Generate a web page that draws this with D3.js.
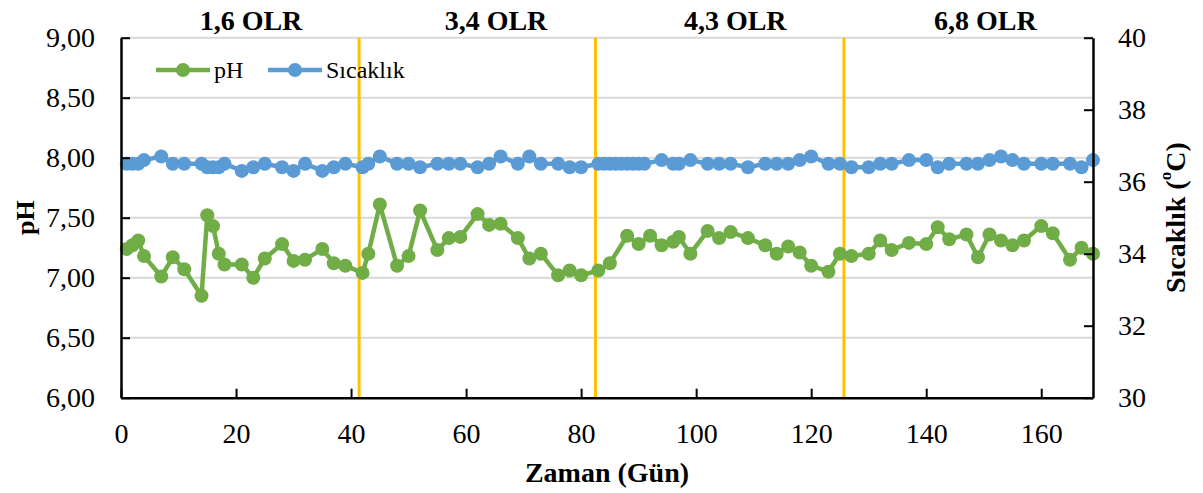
<!DOCTYPE html>
<html>
<head>
<meta charset="utf-8">
<script src="https://cdn.jsdelivr.net/npm/d3@7"></script>
<style>
  html, body { margin: 0; padding: 0; background: #fff; }
  svg { display: block; font-family: "Liberation Serif", "Times New Roman", serif; }
</style>
</head>
<body>
<svg id="chart" width="1203" height="493"></svg>
<script>
// Reactor monitoring: pH and temperature over time, split into OLR phases.
const phDays = [1,2,3,4,7,9,11,14,15,16,17,18,21,23,25,28,30,32,35,37,39,42,
  43,45,48,50,52,55,57,59,62,64,66,69,71,73,76,78,80,
  83,85,88,90,92,94,96,97,99,102,104,106,109,112,114,116,118,120,123,125,
  127,130,132,134,137,140,142,144,147,149,151,153,155,157,160,162,165,167,169];
const phValues = [7.24,7.27,7.31,7.18,7.01,7.17,7.07,6.85,7.52,7.43,7.20,7.11,7.11,7.00,7.16,7.28,7.14,7.15,7.24,7.12,7.10,7.04,
  7.20,7.61,7.10,7.18,7.56,7.23,7.33,7.34,7.53,7.44,7.45,7.33,7.16,7.20,7.02,7.06,7.02,
  7.06,7.12,7.35,7.28,7.35,7.27,7.30,7.34,7.20,7.39,7.33,7.38,7.33,7.27,7.20,7.26,7.21,7.10,7.05,7.20,
  7.18,7.20,7.31,7.23,7.29,7.28,7.42,7.32,7.36,7.17,7.36,7.31,7.27,7.31,7.43,7.37,7.15,7.25,7.20];

const tempDays = [1,2,3,4,7,9,11,14,15,16,17,18,21,23,25,28,30,32,35,37,39,42,
  43,45,48,50,52,55,57,59,62,64,66,69,71,73,76,78,80,
  83,84,85,86,87,88,89,90,91,
  94,96,97,99,102,104,106,109,112,114,116,118,120,123,125,
  127,130,132,134,137,140,142,144,147,149,151,153,155,157,160,162,165,167,169];
const tempValues = [36.5,36.5,36.5,36.6,36.7,36.5,36.5,36.5,36.4,36.4,36.4,36.5,36.3,36.4,36.5,36.4,36.3,36.5,36.3,36.4,36.5,36.4,
  36.5,36.7,36.5,36.5,36.4,36.5,36.5,36.5,36.4,36.5,36.7,36.5,36.7,36.5,36.5,36.4,36.4,
  36.5,36.5,36.5,36.5,36.5,36.5,36.5,36.5,36.5,
  36.6,36.5,36.5,36.6,36.5,36.5,36.5,36.4,36.5,36.5,36.5,36.6,36.7,36.5,36.5,
  36.4,36.4,36.5,36.5,36.6,36.6,36.4,36.5,36.5,36.5,36.6,36.7,36.6,36.5,36.5,36.5,36.5,36.4,36.6];

const dayTicks = [0,20,40,60,80,100,120,140,160];
const phTicks = [6,6.5,7,7.5,8,8.5,9];
const tempTicks = [30,32,34,36,38,40];

// Phase boundaries (days) and their labels
const phaseBounds = [41.4, 82.5, 125.7];
const phaseLabels = ["1,6 OLR","3,4 OLR","4,3 OLR","6,8 OLR"];
const phaseLabelDays = [22.6, 65.2, 106.8, 150.3];

const seriesNames = ["pH", "Sıcaklık"];

const W = 1203, H = 493;
const margin = { top: 37.7, right: 110, bottom: 95.3, left: 121 };
const x0 = margin.left, x1 = W - margin.right;
const y0 = H - margin.bottom, y1 = margin.top;

const green = "#70AD47", blue = "#5B9BD5", orange = "#FFC000";

const locale = d3.formatLocale({ decimal: ",", thousands: ".", grouping: [3], currency: ["", ""] });
const fmt2 = locale.format(".2f");

const x = d3.scaleLinear().domain([0, 169]).range([x0, x1]);
const yPh = d3.scaleLinear().domain([6, 9]).range([y0, y1]);
const yT = d3.scaleLinear().domain([30, 40]).range([y0, y1]);

const svg = d3.select("#chart");

// Horizontal gridlines
svg.append("g").selectAll("line").data(phTicks.filter(d => d > 6)).join("line")
  .attr("x1", x0).attr("x2", x1)
  .attr("y1", d => yPh(d)).attr("y2", d => yPh(d))
  .attr("stroke", "#D9D9D9").attr("stroke-width", 2);

// Phase separators
svg.append("g").selectAll("line").data(phaseBounds).join("line")
  .attr("x1", d => x(d)).attr("x2", d => x(d))
  .attr("y1", y0).attr("y2", y1)
  .attr("stroke", orange).attr("stroke-width", 3);

// Phase labels
svg.append("g").selectAll("text").data(phaseLabels).join("text")
  .attr("x", (d, i) => x(phaseLabelDays[i]))
  .attr("y", 30)
  .attr("text-anchor", "middle")
  .attr("font-weight", "bold")
  .attr("font-size", 28)
  .text(d => d);

// Series
function drawSeries(days, values, yScale, color) {
  const pts = days.map((d, i) => [d, values[i]]);
  const line = d3.line().x(d => x(d[0])).y(d => yScale(d[1]));
  const g = svg.append("g");
  g.append("path").datum(pts)
    .attr("d", line)
    .attr("fill", "none")
    .attr("stroke", color)
    .attr("stroke-width", 4.5)
    .attr("stroke-linejoin", "round");
  g.selectAll("circle").data(pts).join("circle")
    .attr("cx", d => x(d[0])).attr("cy", d => yScale(d[1]))
    .attr("r", 7).attr("fill", color);
}
drawSeries(phDays, phValues, yPh, green);
drawSeries(tempDays, tempValues, yT, blue);

// Axes
function styleAxis(g) {
  g.select(".domain").attr("stroke", "#000").attr("stroke-width", 2.5);
  g.selectAll(".tick line").attr("stroke", "#000").attr("stroke-width", 2);
  g.selectAll(".tick text").attr("font-size", 28).attr("fill", "#000")
    .attr("font-family", "Liberation Serif, Times New Roman, serif");
}

svg.append("g").attr("transform", `translate(${x0},0)`)
  .call(d3.axisLeft(yPh).tickValues(phTicks).tickFormat(fmt2).tickSize(-9).tickSizeOuter(0).tickPadding(26))
  .call(styleAxis);

svg.append("g").attr("transform", `translate(${x1},0)`)
  .call(d3.axisRight(yT).tickValues(tempTicks).tickFormat(d3.format("d")).tickSize(-9).tickSizeOuter(0).tickPadding(25))
  .call(styleAxis);

svg.append("g").attr("transform", `translate(0,${y0})`)
  .call(d3.axisBottom(x).tickValues(dayTicks).tickFormat(d3.format("d")).tickSize(-9).tickSizeOuter(0).tickPadding(25))
  .call(styleAxis);

// Axis titles
svg.append("text")
  .attr("transform", `translate(25,${(y0 + y1) / 2}) rotate(-90)`)
  .attr("text-anchor", "middle").attr("dominant-baseline", "central")
  .attr("font-weight", "bold").attr("font-size", 26)
  .text("pH");

const rt = svg.append("text")
  .attr("transform", `translate(1175,${(y0 + y1) / 2}) rotate(-90)`)
  .attr("text-anchor", "middle").attr("dominant-baseline", "central")
  .attr("font-weight", "bold").attr("font-size", 28);
rt.append("tspan").text("Sıcaklık (");
rt.append("tspan").attr("font-size", 17).attr("baseline-shift", "super").text("o");
rt.append("tspan").text("C)");

svg.append("text")
  .attr("x", (x0 + x1) / 2).attr("y", 482)
  .attr("text-anchor", "middle")
  .attr("font-weight", "bold").attr("font-size", 28)
  .text("Zaman (Gün)");

// Legend
const legendItems = [
  { name: seriesNames[0], color: green, x: 156 },
  { name: seriesNames[1], color: blue, x: 268 }
];
const lg = svg.append("g").selectAll("g").data(legendItems).join("g")
  .attr("transform", d => `translate(${d.x},70)`);
lg.append("line").attr("x1", 0).attr("x2", 54).attr("y1", 0).attr("y2", 0)
  .attr("stroke", d => d.color).attr("stroke-width", 4.5);
lg.append("circle").attr("cx", 27).attr("cy", 0).attr("r", 7).attr("fill", d => d.color);
lg.append("text").attr("x", 58).attr("y", 7.5)
  .attr("font-size", 24).text(d => d.name);
</script>
</body>
</html>
